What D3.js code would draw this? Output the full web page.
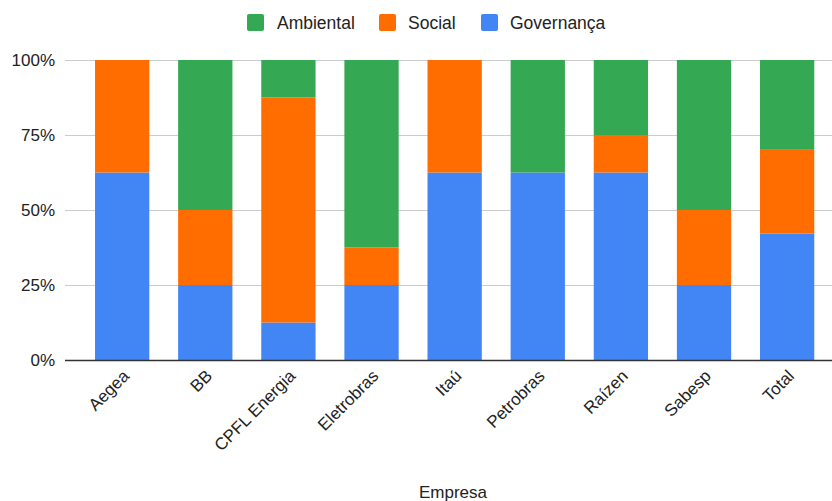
<!DOCTYPE html>
<html><head><meta charset="utf-8">
<script src="https://cdn.jsdelivr.net/npm/d3@7"></script>
<style>body{margin:0;background:#fff}svg{display:block;font-family:Arial,"Liberation Sans",sans-serif}</style>
</head><body><svg id="c" width="832" height="501"></svg>
<script>
const categories = ["Aegea","BB","CPFL Energia","Eletrobras","Itaú","Petrobras","Raízen","Sabesp","Total"];
const governanca = [62.5,25,12.5,25,62.5,62.5,62.5,25,42.19];
const social = [37.5,25,75,12.5,37.5,0,12.5,25,28.13];
const ambiental = [0,50,12.5,62.5,0,37.5,25,50,29.69];
const seriesNames = ["Governança","Social","Ambiental"];
const legendOrder = ["Ambiental","Social","Governança"];
const yTicks = [0,25,50,75,100];
const colors = {"Governança":"#4285F4","Social":"#FF6D01","Ambiental":"#34A853"};

const svg = d3.select("#c");
const rows = categories.map((c,i)=>({cat:c,"Governança":governanca[i],"Social":social[i],"Ambiental":ambiental[i]}));
const x = d3.scaleBand().domain(categories).range([80.6,828.7]).paddingInner(0.347).paddingOuter(0.1735);
const y = d3.scaleLinear().domain([0,100]).range([360,60]);

// grid
svg.append("g").selectAll("line").data(yTicks).join("line")
  .attr("x1",65).attr("x2",832).attr("y1",d=>y(d)).attr("y2",d=>y(d))
  .attr("stroke","#cccccc").attr("stroke-width",1).attr("shape-rendering","crispEdges");
svg.append("g").selectAll("text").data(yTicks).join("text")
  .attr("x",55).attr("y",d=>y(d)).attr("dy","0.36em").attr("text-anchor","end")
  .attr("font-size",17).attr("fill","#222").text(d=>d+"%");

const stack = d3.stack().keys(seriesNames).offset(d3.stackOffsetExpand)(rows);
svg.append("g").selectAll("g").data(stack).join("g").attr("fill",d=>colors[d.key])
  .selectAll("rect").data(d=>d).join("rect")
  .attr("x",d=>x(d.data.cat)).attr("width",x.bandwidth())
  .attr("y",d=>y(d[1]*100)).attr("height",d=>y(d[0]*100)-y(d[1]*100));

// baseline
svg.append("line").attr("x1",65).attr("x2",832).attr("y1",y(0)+0.5).attr("y2",y(0)+0.5)
  .attr("stroke","#333").attr("stroke-width",1.3);

// x labels
svg.append("g").selectAll("text").data(categories).join("text")
  .attr("transform",d=>`translate(${x(d)+x.bandwidth()/2+8},${377}) rotate(-45)`)
  .attr("text-anchor","end").attr("font-size",17).attr("fill","#222").text(d=>d);

svg.append("text").attr("x",453).attr("y",498).attr("text-anchor","middle")
  .attr("font-size",17).attr("fill","#222").text("Empresa");

// legend
const lx = [247,379,481];
const lg = svg.append("g").selectAll("g").data(legendOrder).join("g")
  .attr("transform",(d,i)=>`translate(${lx[i]},14)`);
lg.append("rect").attr("width",17).attr("height",17).attr("rx",2).attr("fill",d=>colors[d]);
lg.append("text").attr("x",(d,i)=>[30,29,29][i]).attr("y",15).attr("font-size",17.5).attr("fill","#222").text(d=>d);
</script></body></html>
